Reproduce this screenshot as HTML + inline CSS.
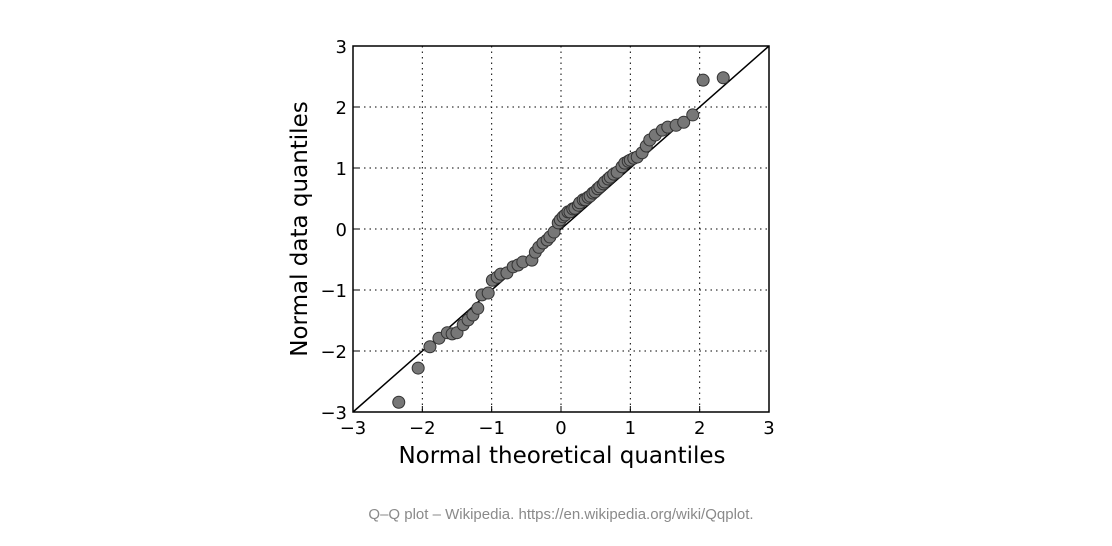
<!DOCTYPE html>
<html><head><meta charset="utf-8"><style>
body{margin:0;background:#fff;width:1112px;height:546px;overflow:hidden}
svg{display:block}
text{font-family:"DejaVu Sans","Liberation Sans",sans-serif}
</style></head><body>
<svg id="chart" width="1112" height="546">
<g id="grid"></g>
<line id="ref" stroke="#000" stroke-width="1.5"/>
<g id="pts"></g>
<rect x="353" y="46" width="416" height="366" fill="none" stroke="#000" stroke-width="1.5"/>
<g id="ticks"></g>
<text x="562" y="463" font-size="23" text-anchor="middle">Normal theoretical quantiles</text>
<text transform="translate(307,229) rotate(-90)" font-size="23" text-anchor="middle">Normal data quantiles</text>
<text x="561" y="519" font-size="15" fill="#8a8a8a" text-anchor="middle" style="font-family:'Liberation Sans',sans-serif">Q–Q plot – Wikipedia. https://en.wikipedia.org/wiki/Qqplot.</text>
</svg>
<script>
const tickVals=[-3,-2,-1,0,1,2,3];
const tickLabels=["\u22123","\u22122","\u22121","0","1","2","3"];
const xVals=[-2.34,-2.06,-1.89,-1.76,-1.64,-1.57,-1.50,-1.41,-1.34,-1.27,-1.20,-1.14,-1.05,-0.99,-0.92,-0.87,-0.78,-0.69,-0.62,-0.55,-0.42,-0.37,-0.32,-0.26,-0.20,-0.16,-0.10,-0.04,-0.01,0.03,0.06,0.10,0.13,0.17,0.20,0.25,0.27,0.32,0.35,0.39,0.42,0.46,0.49,0.53,0.56,0.61,0.63,0.68,0.71,0.76,0.81,0.88,0.92,0.97,1.00,1.05,1.10,1.17,1.23,1.28,1.36,1.46,1.54,1.66,1.77,1.90,2.05,2.34];
const yVals=[-2.84,-2.28,-1.93,-1.79,-1.70,-1.72,-1.70,-1.57,-1.49,-1.41,-1.30,-1.08,-1.05,-0.84,-0.79,-0.74,-0.72,-0.62,-0.59,-0.54,-0.51,-0.38,-0.30,-0.23,-0.18,-0.13,-0.05,0.10,0.15,0.20,0.23,0.28,0.28,0.33,0.34,0.39,0.43,0.48,0.48,0.52,0.54,0.59,0.61,0.66,0.69,0.74,0.77,0.82,0.85,0.90,0.93,1.02,1.08,1.11,1.13,1.16,1.18,1.25,1.36,1.46,1.54,1.62,1.67,1.70,1.75,1.87,2.44,2.48];
const NS="http://www.w3.org/2000/svg";
const X=v=>353+(v+3)*416/6, Y=v=>412-(v+3)*366/6;
const grid=document.getElementById('grid'),ticks=document.getElementById('ticks'),pts=document.getElementById('pts');
function mk(tag,attrs,parent){const e=document.createElementNS(NS,tag);for(const k in attrs)e.setAttribute(k,attrs[k]);parent.appendChild(e);return e;}
tickVals.forEach((v,i)=>{
  if(v>-3&&v<3){
    const g1=mk('line',{x1:X(v),x2:X(v),y1:46,y2:412,stroke:'#000','stroke-width':1,'stroke-dasharray':'1.5,4'},grid);
    
    
    const g2=mk('line',{x1:353,x2:769,y1:Y(v),y2:Y(v),stroke:'#000','stroke-width':1,'stroke-dasharray':'1.5,4'},grid);
    
    
  }
  const tx=mk('text',{x:X(v),y:434,'font-size':18,'text-anchor':'middle'},ticks);tx.textContent=tickLabels[i];
  
  
  const ty=mk('text',{x:347,y:Y(v)+7,'font-size':18,'text-anchor':'end'},ticks);ty.textContent=tickLabels[i];
  
  
  const m1=mk('line',{x1:X(v),x2:X(v),y1:412,y2:406,stroke:'#000'},ticks);
  
  
  const m2=mk('line',{x1:353,x2:359,y1:Y(v),y2:Y(v),stroke:'#000'},ticks);
  
  
});
const r=document.getElementById('ref');
r.setAttribute('x1',X(-3));r.setAttribute('y1',Y(-3));r.setAttribute('x2',X(3));r.setAttribute('y2',Y(3));
xVals.forEach((v,i)=>{
  const c=mk('circle',{cx:X(v),cy:Y(yVals[i]),r:6,fill:'#777',stroke:'#333','stroke-width':1},pts);
  
  
});
</script>
</body></html>
